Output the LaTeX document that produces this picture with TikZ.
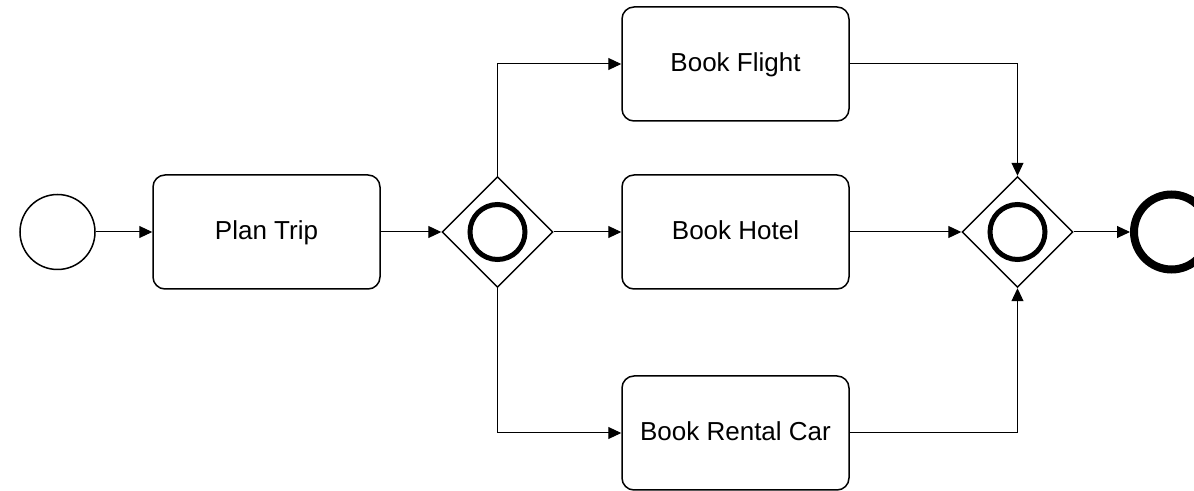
\documentclass[tikz,border=0pt]{standalone}
\usepackage{fontspec}
\setmainfont{Liberation Sans}
\usetikzlibrary{arrows.meta,positioning,shapes.geometric}

\begin{document}
\begin{tikzpicture}[x=0.5pt,y=-0.5pt,
  task/.style={draw,rounded corners=6pt,line width=0.75pt,minimum width=113.5pt,minimum height=57pt,text height=0.72em,text depth=0pt,font=\fontsize{13}{15}\selectfont},
  gate/.style={draw,diamond,line width=0.7pt,minimum width=55.5pt,minimum height=55.5pt,inner sep=0pt},
  flow/.style={line width=0.5pt,-{Triangle[length=6.5pt,width=6pt]}}]
\useasboundingbox (0,0) rectangle (1194,491);
% events and gateways
\node[circle,draw,line width=0.75pt,minimum size=37.5pt] (start) at (57.5,232) {};
\node[gate] (split) at (497.5,232) {};
\draw[line width=2.5pt] (split.center) circle(13.75pt);
\node[gate] (merge) at (1017.5,232) {};
\draw[line width=2.5pt] (merge.center) circle(13.75pt);
\node[circle,draw,line width=4pt,minimum size=37.5pt] (stop) at (1171.5,232) {};
% tasks
\node[task] (plan) at (266.5,232) {Plan Trip};
\node[task] (flight) at (735.5,64) {Book Flight};
\node[task] (hotel) at (735.5,232) {Book Hotel};
\node[task] (car) at (735.5,433) {Book Rental Car};
% flows
\draw[flow] (start)--(plan);
\draw[flow] (plan)--(split);
\draw[flow] (split)|-(flight);
\draw[flow] (split)--(hotel);
\draw[flow] (split)|-(car);
\draw[flow] (flight)-|(merge);
\draw[flow] (hotel)--(merge);
\draw[flow] (car)-|(merge);
\draw[flow] (merge)--(stop);
\end{tikzpicture}
\end{document}
